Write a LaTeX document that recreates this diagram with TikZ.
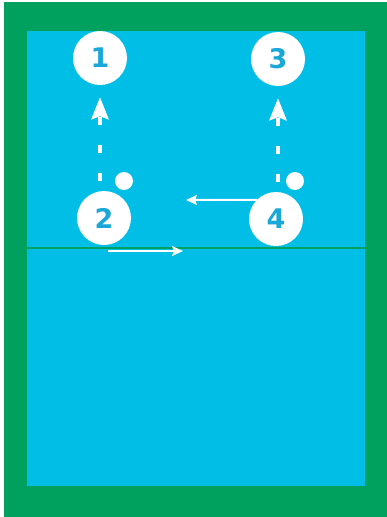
\documentclass[tikz,border=0pt]{standalone}
\usepackage{xcolor}
\usepackage{fontspec}
\usepackage{tikz}
\usetikzlibrary{arrows.meta,positioning,calc}
\newfontfamily\numfont{DejaVu Sans}[BoldFont={DejaVu Sans Bold}]
\definecolor{cGrass}{HTML}{00A05E}
\definecolor{cCourt}{HTML}{00BEE6}
\definecolor{cNum}{HTML}{1AA8D8}
\tikzset{
  player/.style={circle,fill=white,draw=none,minimum size=54pt,inner sep=0pt,
    font=\numfont\bfseries\fontsize{27}{27}\selectfont,text=cNum},
  ball/.style={circle,fill=white,draw=none,minimum size=18pt,inner sep=0pt},
  runarr/.style={-{Stealth[length=22pt,width=17pt,inset=3pt]},line width=4pt,
    color=white,dash pattern=on 8pt off 20pt},
  passarr/.style={-{Stealth[length=11pt,width=10pt,inset=2pt]},line width=2pt,color=white},
}
\begin{document}
\begin{tikzpicture}[x=1pt,y=-1pt]
  \useasboundingbox (0,0) rectangle (387,517);
  % field and court
  \fill[white] (0,0) rectangle (387,517);
  \fill[cGrass] (4,2) rectangle (387,517);
  \fill[cCourt] (27,31) rectangle (365,486);
  \draw[cGrass,line width=2pt] (27,248) -- (365,248);
  % players
  \node[player] (p1) at (100,58) {1};
  \node[player] (p2) at (104,218) {2};
  \node[player] (p3) at (278,59) {3};
  \node[player] (p4) at (276,219) {4};
  % balls
  \node[ball] (b2) at (124,181) {};
  \node[ball] (b4) at (295,181) {};
  % runs
  \draw[runarr,shorten <=10pt,shorten >=12pt] (p2.north -| p1.south) -- (p1.south);
  \draw[runarr,shorten <=10pt,shorten >=12pt] (p4.north -| p3.south) -- (p3.south);
  % passes
  \coordinate (g4) at (186,200);
  \draw[passarr] (p4.135) -- (g4);
  \coordinate (s2) at (108,251);
  \coordinate (g2) at (183,251);
  \draw[passarr] (s2) -- (g2);
\end{tikzpicture}
\end{document}
